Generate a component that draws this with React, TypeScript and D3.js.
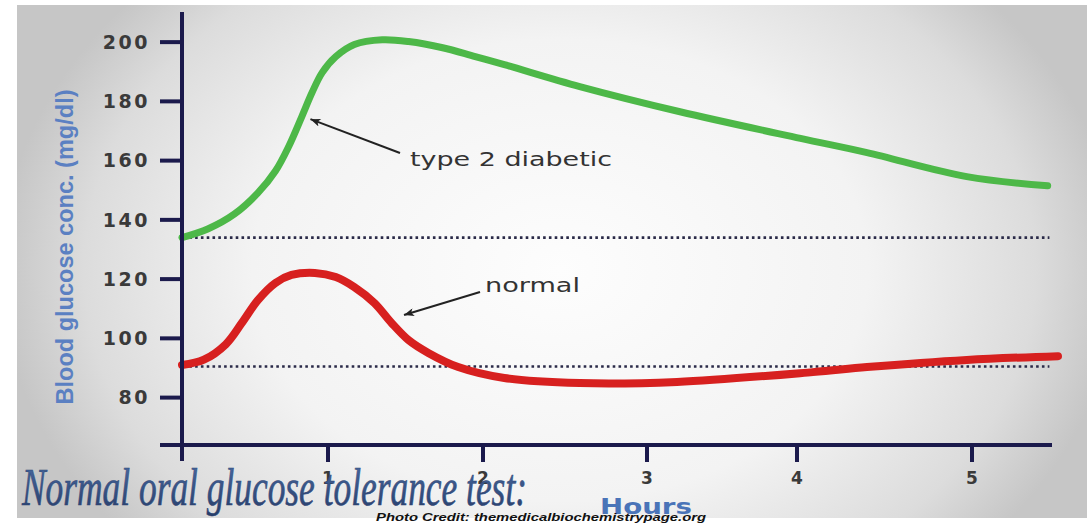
import React from 'react';
import * as d3 from 'd3';

// ---- data ----
const hourTicks = [1, 2, 3, 4, 5];
const hourTickLabels = ['1', '2', '3', '4', '5'];
const glucoseTicks = [80, 100, 120, 140, 160, 180, 200];

const diabeticHours = [0, 0.18, 0.36, 0.52, 0.64, 0.73, 0.82, 0.89, 0.96, 1.05, 1.17, 1.35, 1.52, 1.74, 1.95, 2.13, 2.59, 3.22, 4.02, 4.4, 4.97, 5.44];
const diabeticValues = [134, 137.0, 142.0, 149.1, 156.5, 164.7, 174.8, 182.9, 189.7, 195.1, 199.2, 200.8, 200.2, 198.1, 195.1, 192.4, 185.0, 176.5, 167.5, 162.7, 154.6, 151.5];

const normalHours = [0, 0.15, 0.3, 0.41, 0.52, 0.64, 0.75, 0.91, 1.05, 1.17, 1.3, 1.41, 1.52, 1.65, 1.84, 2.13, 2.59, 3.2, 4.09, 4.4, 4.97, 5.5];
const normalValues = [91, 92.8, 98.0, 105.2, 112.9, 118.7, 121.4, 122.1, 120.7, 117.3, 111.9, 105.2, 99.4, 95.0, 90.3, 86.6, 84.9, 85.3, 88.6, 90.3, 92.7, 94.0];

const diabeticFasting = 134;
const normalFasting = 90.5;
const baselineEnd = 5.45;

const yAxisTitle = 'Blood glucose conc. (mg/dl)';
const xAxisTitle = 'Hours';
const captionText = 'Normal oral glucose tolerance test:';
const creditText = 'Photo Credit: themedicalbiochemistrypage.org';
const diabeticLabel = 'type 2 diabetic';
const normalLabel = 'normal';

// ---- scales ----
const x = d3.scaleLinear().domain([0, 1, 2, 3, 4, 5, 5.5]).range([182, 328, 483, 647, 797, 972, 1058]);
const y = d3.scaleLinear().domain([64, 210]).range([445, 12.5]);

const line = d3
  .line<[number, number]>()
  .x((d) => x(d[0]))
  .y((d) => y(d[1]))
  .curve(d3.curveCatmullRom.alpha(0.5));

const diabeticPts = diabeticHours.map((h, i) => [h, diabeticValues[i]] as [number, number]);
const normalPts = normalHours.map((h, i) => [h, normalValues[i]] as [number, number]);

const axisColor = '#1b1a4c';
const labelGray = '#3a3a3a';

export default function App() {
  return (
    <svg
      width={1087}
      height={523}
      style={{ position: 'absolute', left: 0, top: 0, display: 'block' }}
    >
      <defs>
        <radialGradient
          id="bg"
          gradientUnits="userSpaceOnUse"
          cx={560}
          cy={270}
          r={560}
          gradientTransform="translate(560,270) scale(1,0.75) translate(-560,-270)"
        >
          <stop offset="0" stopColor="#fdfdfd" />
          <stop offset="0.55" stopColor="#f3f3f3" />
          <stop offset="0.85" stopColor="#dcdcdc" />
          <stop offset="1" stopColor="#c6c6c6" />
        </radialGradient>
        <linearGradient id="cap" x1="0" y1="0" x2="0" y2="1">
          <stop offset="0" stopColor="#4a6ca4" />
          <stop offset="1" stopColor="#263c68" />
        </linearGradient>
        <marker
          id="arrow"
          viewBox="0 0 10 8"
          refX={10}
          refY={4}
          markerWidth={11}
          markerHeight={8}
          markerUnits="userSpaceOnUse"
          orient="auto"
        >
          <path d="M0,0 L10,4 L0,8 L2.5,4 z" fill="#222" />
        </marker>
      </defs>

      <rect x={0} y={0} width={1087} height={523} fill="#ffffff" />
      <rect x={17} y={5} width={1070} height={513} fill="url(#bg)" />

      {/* baselines (fasting levels) */}
      <line
        x1={x(0.05)}
        x2={x(baselineEnd)}
        y1={y(diabeticFasting)}
        y2={y(diabeticFasting)}
        stroke="#2a2a48"
        strokeWidth={2.6}
        strokeDasharray="2.6 3.2"
      />
      <line
        x1={x(0.05)}
        x2={x(baselineEnd)}
        y1={y(normalFasting)}
        y2={y(normalFasting)}
        stroke="#2a2a48"
        strokeWidth={2.6}
        strokeDasharray="2.6 3.2"
      />

      {/* curves */}
      <path d={line(diabeticPts) || ''} fill="none" stroke="#4db848" strokeWidth={7} strokeLinecap="round" />
      <path d={line(normalPts) || ''} fill="none" stroke="#d7201f" strokeWidth={8} strokeLinecap="round" />

      {/* axes */}
      <line x1={x(0)} x2={x(0)} y1={12} y2={461} stroke={axisColor} strokeWidth={4} />
      <line x1={160} x2={1052} y1={y(64)} y2={y(64)} stroke={axisColor} strokeWidth={4} />
      {glucoseTicks.map((t) => (
        <g key={t}>
          <line x1={160} x2={x(0)} y1={y(t)} y2={y(t)} stroke={axisColor} strokeWidth={4} />
          <text
            x={150}
            y={y(t)}
            dy="0.36em"
            textAnchor="end"
            fontFamily="'DejaVu Sans', sans-serif"
            fontWeight="bold"
            fontSize={19}
            letterSpacing={2.5}
            fill={labelGray}
          >
            {t}
          </text>
        </g>
      ))}
      {hourTicks.map((t, i) => (
        <g key={t}>
          <line x1={x(t)} x2={x(t)} y1={y(64)} y2={462} stroke={axisColor} strokeWidth={4} />
          <text
            x={x(t)}
            y={484}
            textAnchor="middle"
            fontFamily="'DejaVu Sans', sans-serif"
            fontWeight="bold"
            fontSize={17}
            fill={labelGray}
          >
            {hourTickLabels[i]}
          </text>
        </g>
      ))}

      {/* axis titles */}
      <text
        transform={`translate(73,${247}) rotate(-90)`}
        textAnchor="middle"
        fontFamily="'Liberation Sans Narrow', 'Liberation Sans', sans-serif"
        fontWeight="bold"
        fontSize={24}
        fill="#5b80c2"
        textLength={315}
        lengthAdjust="spacingAndGlyphs"
      >
        {yAxisTitle}
      </text>
      <text
        x={600}
        y={514}
        fontFamily="'DejaVu Sans', sans-serif"
        fontWeight="bold"
        fontSize={21}
        fill="#4a74b8"
        textLength={92}
        lengthAdjust="spacingAndGlyphs"
      >
        {xAxisTitle}
      </text>

      {/* annotations */}
      <line x1={400} y1={153} x2={x(0.88)} y2={y(174)} stroke="#222" strokeWidth={2} markerEnd="url(#arrow)" />
      <text
        x={410}
        y={166}
        fontFamily="'DejaVu Sans', sans-serif"
        fontSize={20}
        fill="#333"
        textLength={202}
        lengthAdjust="spacingAndGlyphs"
      >
        {diabeticLabel}
      </text>
      <line x1={480} y1={292} x2={404} y2={315} stroke="#222" strokeWidth={2} markerEnd="url(#arrow)" />
      <text
        x={485}
        y={292}
        fontFamily="'DejaVu Sans', sans-serif"
        fontSize={20}
        fill="#333"
        textLength={95}
        lengthAdjust="spacingAndGlyphs"
      >
        {normalLabel}
      </text>

      {/* caption */}
      <text
        x={22}
        y={505}
        fontFamily="'Liberation Serif', 'Times New Roman', serif"
        fontStyle="italic"
        fontSize={52}
        fill="url(#cap)"
        stroke="#2c4474"
        strokeWidth={0.6}
        textLength={505}
        lengthAdjust="spacingAndGlyphs"
      >
        {captionText}
      </text>
      <text
        x={376}
        y={521}
        fontFamily="'Liberation Sans', Arial, sans-serif"
        fontStyle="italic"
        fontWeight="bold"
        fontSize={11}
        fill="#111"
        textLength={330}
        lengthAdjust="spacingAndGlyphs"
      >
        {creditText}
      </text>
    </svg>
  );
}
